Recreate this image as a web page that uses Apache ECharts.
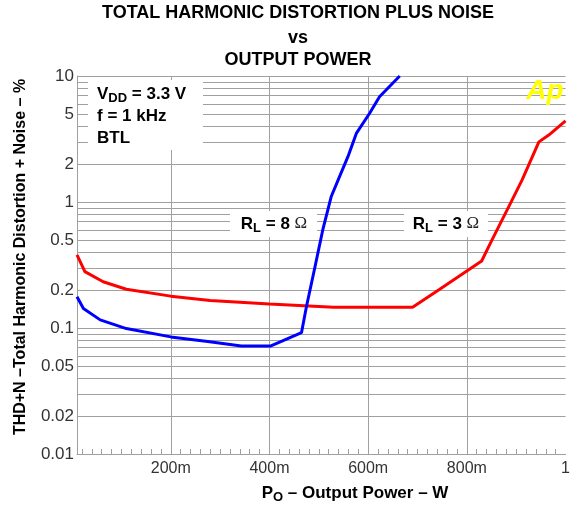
<!DOCTYPE html>
<html><head><meta charset="utf-8">
<script src="https://cdn.jsdelivr.net/npm/echarts@6/dist/echarts.min.js"></script>
<style>html,body{margin:0;padding:0;background:#fff}#c{width:573px;height:506px}</style>
</head><body><div id="c"></div>
<script>
// ---- data ----
const xTickValues = [0.2, 0.4, 0.6, 0.8, 1];
const xTickNames = ['200m', '400m', '600m', '800m', '1'];
const xGridValues = [0.2, 0.4, 0.6, 0.8];
const xMinorTicks = [0.02,0.04,0.06,0.08,0.1,0.12,0.14,0.16,0.18,0.2,0.22,0.24,0.26,0.28,0.3,0.32,0.34,0.36,0.38,0.4,
  0.42,0.44,0.46,0.48,0.5,0.52,0.54,0.56,0.58,0.6,0.62,0.64,0.66,0.68,0.7,0.72,0.74,0.76,0.78,0.8,
  0.82,0.84,0.86,0.88,0.9,0.92,0.94,0.96,0.98];
const yTickValues = [0.01, 0.02, 0.05, 0.1, 0.2, 0.5, 1, 2, 5, 10];
const yGridValues = [0.01,0.02,0.03,0.04,0.05,0.06,0.07,0.08,0.09,
  0.1,0.2,0.3,0.4,0.5,0.6,0.7,0.8,0.9,
  1,2,3,4,5,6,7,8,9,10];

// R_L = 8 ohm (blue)
const power8 = [0.01, 0.023, 0.057, 0.11, 0.20, 0.275, 0.343, 0.403, 0.465, 0.475, 0.491, 0.508, 0.525, 0.542, 0.559, 0.576, 0.603, 0.623, 0.664];
const thd8   = [0.177, 0.143, 0.116, 0.099, 0.085, 0.078, 0.072, 0.072, 0.092, 0.148, 0.29, 0.60, 1.10, 1.59, 2.29, 3.5, 5.06, 6.85, 10];
// R_L = 3 ohm (red)
const power3 = [0.01, 0.026, 0.063, 0.11, 0.20, 0.28, 0.40, 0.50, 0.53, 0.69, 0.745, 0.83, 0.851, 0.885, 0.912, 0.946, 0.966, 1.0];
const thd3   = [0.38, 0.28, 0.233, 0.203, 0.179, 0.165, 0.155, 0.148, 0.146, 0.146, 0.203, 0.34, 0.50, 0.92, 1.5, 3.0, 3.4, 4.4];

const FONT = "'Liberation Sans', Arial, sans-serif";
const GRID = '#a0a0a0';
const zip = (a, b) => a.map((v, i) => [v, b[i]]);

const subRich = (size, subSize) => ({
  b: {font: 'bold ' + size + 'px ' + FONT, fill: '#000'},
  s: {font: 'bold ' + subSize + 'px ' + FONT, fill: '#000', padding: [Math.round(size * 0.45), 0, 0, 0]},
  o: {font: size + 'px "Liberation Serif", serif', fill: '#222'}
});

const chart = echarts.init(document.getElementById('c'), null, {renderer: 'canvas'});
chart.setOption({
  animation: false,
  backgroundColor: '#fff',
  grid: {left: 77, right: 6, top: 76, bottom: 52, containLabel: false},
  xAxis: [{
    type: 'value', min: 0.01, max: 1, position: 'bottom',
    axisLine: {show: true, lineStyle: {color: GRID, width: 1}},
    axisTick: {show: false, customValues: xGridValues},
    splitLine: {show: true, lineStyle: {color: GRID, width: 1}},
    axisLabel: {
      customValues: xTickValues, margin: 7,
      formatter: v => { const i = xTickValues.findIndex(t => Math.abs(t - v) < 1e-6); return i >= 0 ? xTickNames[i] : ''; },
      fontFamily: FONT, fontSize: 16, color: '#333'
    }
  }, {
    type: 'value', min: 0.01, max: 1, position: 'bottom',
    axisLine: {show: false},
    axisTick: {show: true, inside: true, length: 5, customValues: xMinorTicks, lineStyle: {color: GRID}},
    splitLine: {show: false},
    axisLabel: {show: false}
  }],
  yAxis: {
    type: 'log', logBase: 10, min: 0.01, max: 10,
    axisLine: {show: true, lineStyle: {color: GRID, width: 1}},
    axisTick: {show: false, customValues: yGridValues},
    splitLine: {show: true, lineStyle: {color: GRID, width: 1}},
    axisLabel: {
      customValues: yTickValues, margin: 3,
      formatter: v => String(+(+v).toPrecision(3)),
      fontFamily: FONT, fontSize: 17, color: '#333'
    }
  },
  series: [{
    type: 'line', name: 'RL = 8', data: zip(power8, thd8), showSymbol: false, symbol: 'none',
    lineStyle: {color: '#0000ff', width: 3}, itemStyle: {color: '#0000ff'}, clip: true, z: 5
  }, {
    type: 'line', name: 'RL = 3', data: zip(power3, thd3), showSymbol: false, symbol: 'none',
    lineStyle: {color: '#ff0000', width: 3}, itemStyle: {color: '#ff0000'}, clip: true, z: 4
  }],
  graphic: [
    {type: 'text', x: 298, y: 13, z: 100, style: {text: 'TOTAL HARMONIC DISTORTION PLUS NOISE', font: 'bold 18px ' + FONT, fill: '#000', align: 'center', verticalAlign: 'middle'}},
    {type: 'text', x: 298, y: 38, z: 100, style: {text: 'vs', font: 'bold 18px ' + FONT, fill: '#000', align: 'center', verticalAlign: 'middle'}},
    {type: 'text', x: 298, y: 60, z: 100, style: {text: 'OUTPUT POWER', font: 'bold 18px ' + FONT, fill: '#000', align: 'center', verticalAlign: 'middle'}},
    {type: 'text', x: 21, y: 257, rotation: Math.PI / 2, z: 100, style: {text: 'THD+N \u2013Total Harmonic Distortion + Noise \u2013 %', font: 'bold 16px ' + FONT, fill: '#000', align: 'center', verticalAlign: 'middle'}},
    {type: 'text', x: 355, y: 493, z: 100, style: {
      text: '{b|P}{s|O}{b| \u2013 Output Power \u2013 W}', align: 'center', verticalAlign: 'middle',
      rich: subRich(17, 13)
    }},
    {type: 'rect', z: 90, shape: {x: 88, y: 80, width: 115, height: 70}, style: {fill: '#fff'}},
    {type: 'text', x: 97, y: 94, z: 100, style: {
      text: '{b|V}{s|DD}{b| = 3.3 V}', align: 'left', verticalAlign: 'middle',
      rich: subRich(17, 13)
    }},
    {type: 'text', x: 97, y: 116, z: 100, style: {text: 'f = 1 kHz', font: 'bold 17px ' + FONT, fill: '#000', align: 'left', verticalAlign: 'middle'}},
    {type: 'text', x: 97, y: 138, z: 100, style: {text: 'BTL', font: 'bold 17px ' + FONT, fill: '#000', align: 'left', verticalAlign: 'middle'}},
    {type: 'rect', z: 90, shape: {x: 230, y: 211, width: 87, height: 26}, style: {fill: '#fff'}},
    {type: 'text', x: 274, y: 224, z: 100, style: {
      text: '{b|R}{s|L}{b| = 8 }{o|\u03A9}', align: 'center', verticalAlign: 'middle',
      rich: subRich(17, 13)
    }},
    {type: 'rect', z: 90, shape: {x: 404, y: 211, width: 84, height: 26}, style: {fill: '#fff'}},
    {type: 'text', x: 446, y: 224, z: 100, style: {
      text: '{b|R}{s|L}{b| = 3 }{o|\u03A9}', align: 'center', verticalAlign: 'middle',
      rich: subRich(17, 13)
    }},
    {type: 'text', x: 545, y: 91, z: 100, style: {text: 'Ap', font: 'italic bold 28px ' + FONT, fill: '#ffff00', align: 'center', verticalAlign: 'middle'}}
  ]
});
</script>
</body></html>
